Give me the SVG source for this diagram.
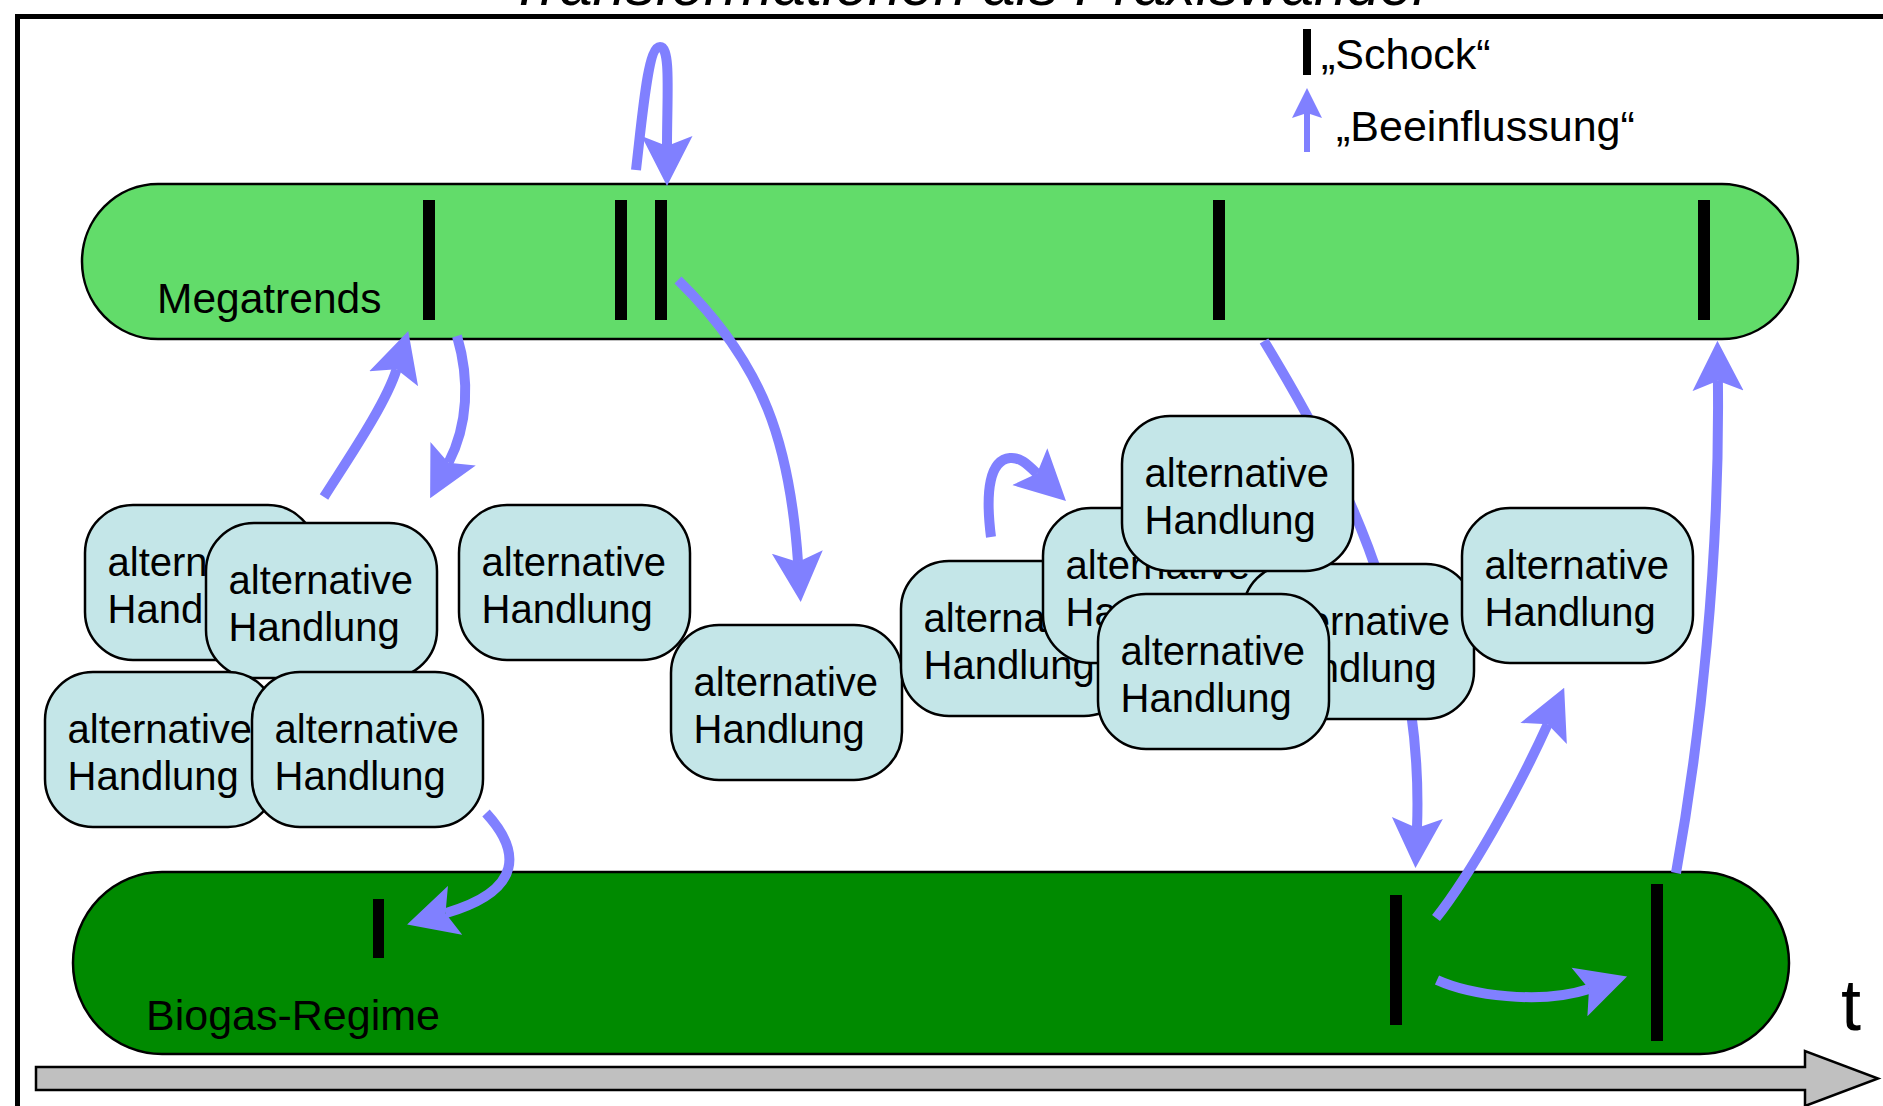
<svg xmlns="http://www.w3.org/2000/svg" width="1883" height="1106" viewBox="0 0 1883 1106">
<defs>
<style>
.lbl{font-family:"Liberation Sans",Arial,sans-serif;fill:#000}
.alt{fill:#C4E6E8;stroke:#000;stroke-width:2.5}
.alt-t{font-family:"Liberation Sans",Arial,sans-serif;font-size:40px;fill:#000}
.shock{fill:#000}
.conn{fill:none;stroke:#8080FF;stroke-width:10;stroke-linecap:butt;marker-end:url(#ah)}
</style>
<marker id="ah" viewBox="0 -26 50 52" markerWidth="50" markerHeight="52" refX="10" refY="0" orient="auto" markerUnits="userSpaceOnUse">
<path d="M0,-25.5 L50,0 L0,25.5 L10,0 Z" fill="#8080FF"/>
</marker>
<rect id="box" width="231" height="155" rx="48" ry="48" class="alt"/>
</defs>
<rect width="1883" height="1106" fill="#fff"/>
<rect x="17.5" y="16.5" width="1900" height="1120" fill="none" stroke="#000" stroke-width="5"/>
<text class="lbl" x="967" y="5" font-size="59" font-style="italic" text-anchor="middle">Transformationen als Praxiswandel</text>

<g id="legend">
<rect x="1303" y="29" width="8" height="46" fill="#000"/>
<text class="lbl" x="1321" y="69" font-size="43">„Schock“</text>
<rect x="1304" y="112" width="6" height="40" fill="#8080FF"/>
<path d="M1307,88 L1322,118 L1307,113 L1292,118 Z" fill="#8080FF"/>
<text class="lbl" x="1336" y="141" font-size="43">„Beeinflussung“</text>
</g>

<g id="megatrends">
<rect x="82" y="184" width="1716" height="155" rx="76" ry="77.5" fill="#62DC6A" stroke="#000" stroke-width="2.5"/>
<text class="lbl" x="157" y="313" font-size="42.5">Megatrends</text>
<rect class="shock" x="423" y="200" width="12" height="120"/>
<rect class="shock" x="615" y="200" width="12" height="120"/>
<rect class="shock" x="655" y="200" width="12" height="120"/>
<rect class="shock" x="1213" y="200" width="12" height="120"/>
<rect class="shock" x="1698" y="200" width="12" height="120"/>
</g>

<g id="biogas-regime">
<rect x="73" y="872" width="1716" height="182" rx="89" ry="91" fill="#008A00" stroke="#000" stroke-width="2.5"/>
<text class="lbl" x="146" y="1030" font-size="43">Biogas-Regime</text>
<rect class="shock" x="373" y="899" width="11" height="59"/>
<rect class="shock" x="1390" y="895" width="12" height="130"/>
<rect class="shock" x="1651" y="884" width="12" height="157"/>
</g>

<g id="time-axis">
<polygon points="36,1067 1805,1067 1805,1051 1878,1078.5 1805,1106 1805,1090 36,1090" fill="#C0C0C0" stroke="#000" stroke-width="2.5"/>
<text class="lbl" x="1841" y="1030" font-size="72">t</text>
</g>

<g id="connectors">
<path class="conn" d="M636,170 C643,110 648,47 660,47 C671,47 667,95 667,146"/>
<path class="conn" d="M324,497 C346,462 386,404 396.6,369.2"/>
<path class="conn" d="M457,336 C470,380 468,425 448.5,462.7"/>
<path class="conn" d="M678,280 C765,365 790,445 798,562"/>
<path class="conn" d="M486,813 C520,850 525,890 445.5,913.2"/>
<path class="conn" d="M991,537 C985,490 990,460 1010,458 C1020,457 1027,464 1037,473.5"/>
<path class="conn" d="M1264,341 C1330,450 1425,620 1417,828"/>
<path class="conn" d="M1436,918 C1470,875 1518,790 1547.7,724.3"/>
<path class="conn" d="M1437,980 C1470,995 1540,1005 1589,989"/>
<path class="conn" d="M1676,873 C1700,740 1720,560 1717.9,380.8"/>
</g>

<g id="alt-a"><use href="#box" x="85" y="505"/><text class="alt-t" x="107.5" y="576">alternative</text><text class="alt-t" x="107.5" y="622.5">Handlung</text></g>
<g id="alt-b"><use href="#box" x="206" y="523"/><text class="alt-t" x="228.5" y="594">alternative</text><text class="alt-t" x="228.5" y="640.5">Handlung</text></g>
<g id="alt-c"><use href="#box" x="45" y="672"/><text class="alt-t" x="67.5" y="743">alternative</text><text class="alt-t" x="67.5" y="789.5">Handlung</text></g>
<g id="alt-d"><use href="#box" x="252" y="672"/><text class="alt-t" x="274.5" y="743">alternative</text><text class="alt-t" x="274.5" y="789.5">Handlung</text></g>
<g id="alt-e"><use href="#box" x="459" y="505"/><text class="alt-t" x="481.5" y="576">alternative</text><text class="alt-t" x="481.5" y="622.5">Handlung</text></g>
<g id="alt-f"><use href="#box" x="671" y="625"/><text class="alt-t" x="693.5" y="696">alternative</text><text class="alt-t" x="693.5" y="742.5">Handlung</text></g>
<g id="alt-g"><use href="#box" x="901" y="561"/><text class="alt-t" x="923.5" y="632">alternative</text><text class="alt-t" x="923.5" y="678.5">Handlung</text></g>
<g id="alt-h"><use href="#box" x="1043" y="508"/><text class="alt-t" x="1065.5" y="579">alternative</text><text class="alt-t" x="1065.5" y="625.5">Handlung</text></g>
<g id="alt-j"><use href="#box" x="1243" y="564"/><text class="alt-t" x="1265.5" y="635">alternative</text><text class="alt-t" x="1265.5" y="681.5">Handlung</text></g>
<g id="alt-i"><use href="#box" x="1122" y="416"/><text class="alt-t" x="1144.5" y="487">alternative</text><text class="alt-t" x="1144.5" y="533.5">Handlung</text></g>
<g id="alt-k"><use href="#box" x="1098" y="594"/><text class="alt-t" x="1120.5" y="665">alternative</text><text class="alt-t" x="1120.5" y="711.5">Handlung</text></g>
<g id="alt-l"><use href="#box" x="1462" y="508"/><text class="alt-t" x="1484.5" y="579">alternative</text><text class="alt-t" x="1484.5" y="625.5">Handlung</text></g>
</svg>
